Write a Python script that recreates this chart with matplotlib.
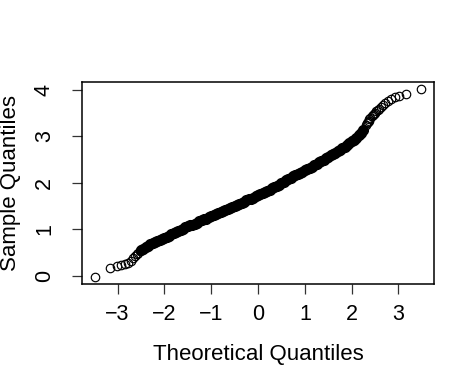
import matplotlib
matplotlib.use("Agg")
import matplotlib.pyplot as plt

plt.rcParams['font.family'] = ['Liberation Sans', 'DejaVu Sans']

# Points (theoretical, sample)
lower_tail_theoretical = [-3.48, -3.17, -3.02, -2.92, -2.84, -2.78, -2.72, -2.67, -2.63, -2.59, -2.56, -2.53]
lower_tail_sample = [-0.02, 0.17, 0.20, 0.22, 0.24, 0.27, 0.32, 0.37, 0.42, 0.46, 0.49, 0.52]

body_theoretical = [
    -2.50, -2.45, -2.40, -2.35, -2.30, -2.25, -2.20, -2.15, -2.10, -2.05,
    -2.00, -1.95, -1.90, -1.85, -1.80, -1.75, -1.70, -1.65, -1.60, -1.55,
    -1.50, -1.45, -1.40, -1.35, -1.30, -1.25, -1.20, -1.15, -1.10, -1.05,
    -1.00, -0.95, -0.90, -0.85, -0.80, -0.75, -0.70, -0.65, -0.60, -0.55,
    -0.50, -0.45, -0.40, -0.35, -0.30, -0.25, -0.20, -0.15, -0.10, -0.05,
    0.00, 0.05, 0.10, 0.15, 0.20, 0.25, 0.30, 0.35, 0.40, 0.45,
    0.50, 0.55, 0.60, 0.65, 0.70, 0.75, 0.80, 0.85, 0.90, 0.95,
    1.00, 1.05, 1.10, 1.15, 1.20, 1.25, 1.30, 1.35, 1.40, 1.45,
    1.50, 1.55, 1.60, 1.65, 1.70, 1.75, 1.80, 1.85, 1.90, 1.95,
    2.00, 2.05, 2.10, 2.15, 2.20, 2.25]
body_sample = [
    0.55, 0.58, 0.61, 0.64, 0.67, 0.70, 0.72, 0.75, 0.77, 0.79,
    0.81, 0.84, 0.86, 0.89, 0.91, 0.94, 0.96, 0.99, 1.01, 1.04,
    1.06, 1.08, 1.10, 1.12, 1.14, 1.17, 1.19, 1.21, 1.23, 1.26,
    1.28, 1.30, 1.32, 1.35, 1.37, 1.39, 1.41, 1.44, 1.46, 1.48,
    1.50, 1.53, 1.55, 1.57, 1.59, 1.62, 1.64, 1.66, 1.68, 1.71,
    1.73, 1.75, 1.78, 1.80, 1.83, 1.85, 1.88, 1.91, 1.94, 1.96,
    1.99, 2.02, 2.05, 2.08, 2.11, 2.14, 2.17, 2.19, 2.22, 2.24,
    2.27, 2.29, 2.32, 2.35, 2.38, 2.41, 2.44, 2.47, 2.50, 2.53,
    2.56, 2.59, 2.62, 2.65, 2.68, 2.71, 2.75, 2.78, 2.82, 2.85,
    2.89, 2.93, 2.97, 3.02, 3.07, 3.14]

upper_tail_theoretical = [2.30, 2.32, 2.34, 2.36, 2.38, 2.40, 2.43, 2.45, 2.47, 2.50, 2.53,
                          2.56, 2.59, 2.63, 2.67, 2.72, 2.78, 2.84, 2.92, 3.02, 3.17, 3.48]
upper_tail_sample = [3.25, 3.28, 3.31, 3.34, 3.37, 3.40, 3.44, 3.46, 3.48, 3.51, 3.54,
                     3.57, 3.60, 3.63, 3.67, 3.71, 3.76, 3.80, 3.85, 3.87, 3.91, 4.01]

x_ticks = [-3, -2, -1, 0, 1, 2, 3]
y_ticks = [0, 1, 2, 3, 4]

theoretical = lower_tail_theoretical + body_theoretical + upper_tail_theoretical
sample = lower_tail_sample + body_sample + upper_tail_sample

fig = plt.figure(figsize=(4.77, 3.86), dpi=100)
ax = fig.add_axes([82 / 477, 1 - 284 / 386, (434 - 82) / 477, (284 - 82) / 386])

# dense central band: thousands of overlapping open circles render solid black
ax.plot(body_theoretical, body_sample, linestyle='none', marker='o', markersize=7.2,
        markerfacecolor='black', markeredgecolor='black', markeredgewidth=0.8)
ax.plot(theoretical, sample, linestyle='none', marker='o', markersize=6.1,
        markerfacecolor='none', markeredgecolor='black', markeredgewidth=0.85)

ax.margins(0.04)
ax.set_xticks(x_ticks)
ax.set_yticks(y_ticks)
ax.set_xticklabels([str(v).replace('-', '\u2212') for v in x_ticks])
ax.set_yticklabels([str(v) for v in y_ticks])

for s in ax.spines.values():
    s.set_linewidth(1.1)
    s.set_color('black')

ax.tick_params(axis='both', length=7.5, width=0.9, labelsize=15.5, color='#333333')
ax.tick_params(axis='x', pad=7)
ax.tick_params(axis='y', pad=12)
for lab in ax.get_yticklabels():
    lab.set_rotation(90)
    lab.set_va('center')
    lab.set_ha('right')

ax.set_xlabel('Theoretical Quantiles', fontsize=16)
ax.set_ylabel('Sample Quantiles', fontsize=16)
ax.xaxis.set_label_coords(0.5, -0.295)
ax.yaxis.set_label_coords(-0.172, 0.5)

fig.savefig('out.png', dpi=100)
